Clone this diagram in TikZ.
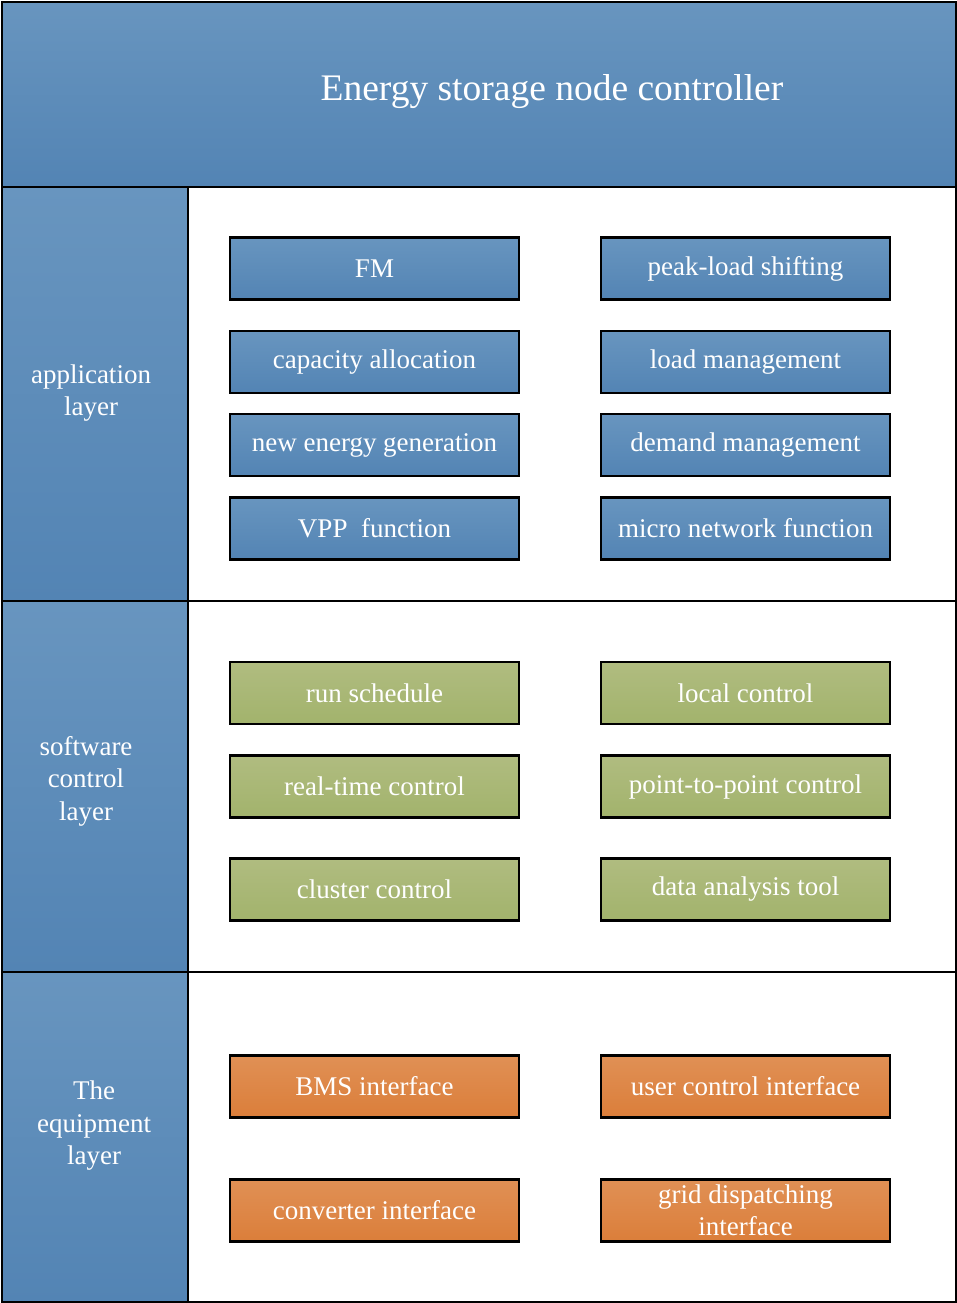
\documentclass[tikz,border=0pt]{standalone}
\usepackage{fontspec}
\setmainfont{Liberation Serif}
\definecolor{bluetop}{HTML}{6895BF}
\definecolor{bluebot}{HTML}{5384B4}
\definecolor{greentop}{HTML}{B0BC80}
\definecolor{greenbot}{HTML}{A2B36C}
\definecolor{orangetop}{HTML}{E09055}
\definecolor{orangebot}{HTML}{DB7E3A}
\tikzset{
  frame/.style={draw=black, line width=2.4pt},
  bluepanel/.style={frame, top color=bluetop, bottom color=bluebot},
  itembox/.style={draw=black, line width=2.4pt, minimum width=289pt, minimum height=62pt,
     inner sep=2pt, text=white, font=\fontsize{27}{32}\selectfont, align=center},
  bluebox/.style={itembox, top color=bluetop, bottom color=bluebot},
  greenbox/.style={itembox, top color=greentop, bottom color=greenbot},
  orangebox/.style={itembox, top color=orangetop, bottom color=orangebot},
  sidelabel/.style={text=white, font=\fontsize{27}{32.5}\selectfont, align=center},
}
\begin{document}
\begin{tikzpicture}[x=1pt,y=-1pt]
\useasboundingbox (0,0) rectangle (957,1303);
% right panel
\draw[frame, fill=white] (188,187) rectangle (956,1302);
\draw[frame] (188,601) -- (956,601);
\draw[frame] (188,972) -- (956,972);
% title
\path[bluepanel] (2,2) rectangle (956,187);
\node[text=white, font=\fontsize{37.5}{44}\selectfont] (title) at (552,92) {Energy storage node controller};
% left column
\path[bluepanel] (2,187) rectangle (188,601);
\path[bluepanel] (2,601) rectangle (188,972);
\path[bluepanel] (2,972) rectangle (188,1302);
\node[sidelabel] (app) at (91,393) {application\\layer};
\node[sidelabel] (soft) at (86,781) {software\\control\\layer};
\node[sidelabel] (equip) at (94,1126) {The\\equipment\\layer};
% application boxes
\node[bluebox] (fm) at (374.5,268.5) {FM};
\node[bluebox] (peak) at (745.5,268.5) {peak-load shifting};
\node[bluebox] (cap) at (374.5,362) {capacity allocation};
\node[bluebox] (loadm) at (745.5,362) {load management};
\node[bluebox] (newe) at (374.5,445) {new energy generation};
\node[bluebox] (demand) at (745.5,445) {demand management};
\node[bluebox] (vpp) at (374.5,528.5) {VPP\ \ function};
\node[bluebox] (micro) at (745.5,528.5) {micro network function};
% software boxes
\node[greenbox] (run) at (374.5,693) {run schedule};
\node[greenbox] (local) at (745.5,693) {local control};
\node[greenbox] (real) at (374.5,786.5) {real-time control};
\node[greenbox] (p2p) at (745.5,786.5) {point-to-point control};
\node[greenbox] (cluster) at (374.5,889.5) {cluster control};
\node[greenbox] (data) at (745.5,889.5) {data analysis tool};
% equipment boxes
\node[orangebox] (bms) at (374.5,1086.5) {BMS interface};
\node[orangebox] (user) at (745.5,1086.5) {user control interface};
\node[orangebox] (conv) at (374.5,1210.5) {converter interface};
\node[orangebox] (grid) at (745.5,1210.5) {grid dispatching\\interface};
\end{tikzpicture}
\end{document}
